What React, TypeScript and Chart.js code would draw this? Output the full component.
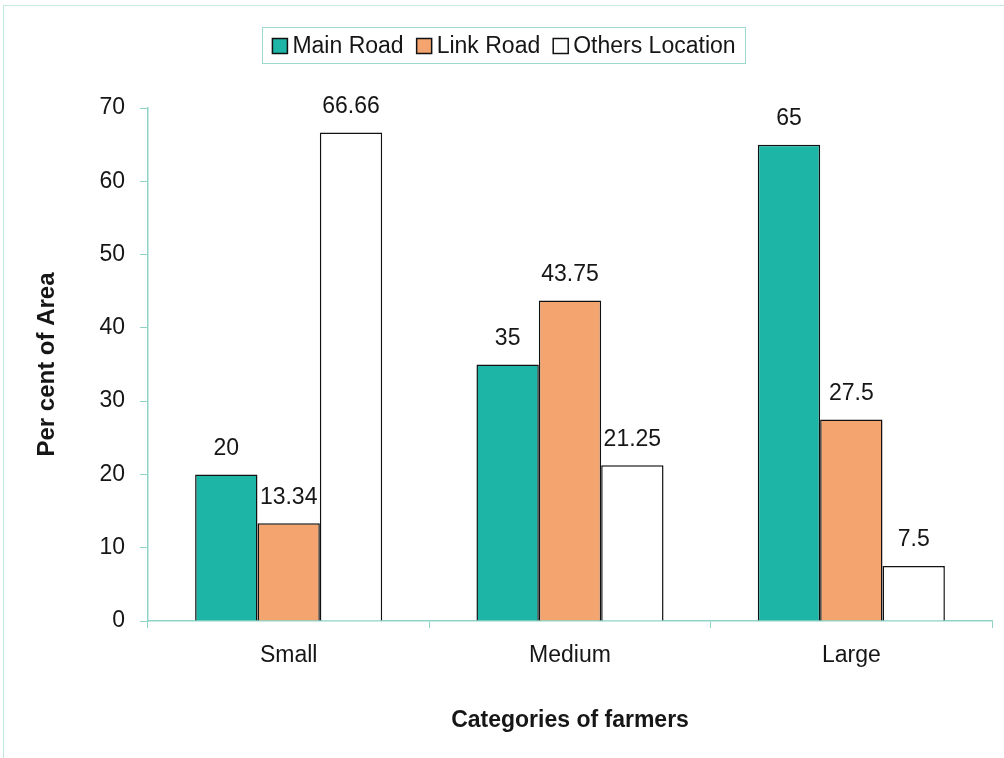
import React, { useEffect, useRef } from "react";
import { Chart, registerables } from "chart.js";

Chart.register(...registerables);

// Share of area by road location for each farmer category
const categories = ["Small", "Medium", "Large"];
const seriesNames = ["Main Road", "Link Road", "Others Location"];
const mainRoad = [20, 35, 65];
const linkRoad = [13.34, 43.75, 27.5];
const othersLocation = [66.66, 21.25, 7.5];
const yMin = 0;
const yMax = 70;
const yStep = 10;

const FONT = "'Liberation Sans', Arial, Helvetica, sans-serif";
const TEXT = "#161616";
const AXIS = "#8fd4c7";
const COLORS = ["#1db5a6", "#f3a46f", "#ffffff"];

const valueLabels = {
  id: "valueLabels",
  afterDatasetsDraw(chart: any) {
    const ctx = chart.ctx;
    ctx.save();
    ctx.font = `23px ${FONT}`;
    ctx.fillStyle = TEXT;
    ctx.textAlign = "center";
    ctx.textBaseline = "middle";
    chart.data.datasets.forEach((ds: any, i: number) => {
      const meta = chart.getDatasetMeta(i);
      meta.data.forEach((bar: any, j: number) => {
        ctx.fillText(String(ds.data[j]), bar.x, bar.y - 26);
      });
    });
    ctx.restore();
  },
};

const boxedLegend = {
  id: "boxedLegend",
  afterDraw(chart: any) {
    const ctx = chart.ctx;
    ctx.save();
    // faint outer frame
    ctx.strokeStyle = "#c4e9e1";
    ctx.lineWidth = 1;
    ctx.strokeRect(3.5, 5.5, 1200, 1200);

    ctx.font = `23px ${FONT}`;
    const sq = 15;
    const gapText = 5;
    const gapItem = 13;
    const widths = seriesNames.map((n) => ctx.measureText(n).width);
    const total =
      widths.reduce((a, b) => a + b, 0) + seriesNames.length * (sq + gapText) + gapItem * (seriesNames.length - 1);
    const cx = 504;
    const padX = 10;
    let x = cx - total / 2;
    const top = 27;
    const bottom = 63;
    ctx.strokeStyle = "#9fd9cd";
    ctx.lineWidth = 1;
    ctx.strokeRect(Math.round(x - padX) + 0.5, top + 0.5, Math.round(total + 2 * padX), bottom - top);

    const cy = 46;
    ctx.textAlign = "left";
    ctx.textBaseline = "middle";
    seriesNames.forEach((name, i) => {
      ctx.fillStyle = COLORS[i];
      ctx.fillRect(x, cy - sq / 2, sq, sq);
      ctx.strokeStyle = "#111";
      ctx.lineWidth = 1.5;
      ctx.strokeRect(x, cy - sq / 2, sq, sq);
      ctx.fillStyle = TEXT;
      ctx.fillText(name, x + sq + gapText, cy + 1);
      x += sq + gapText + widths[i] + gapItem;
    });
    ctx.restore();
  },
};

export default function App() {
  const ref = useRef<HTMLCanvasElement | null>(null);

  useEffect(() => {
    document.body.style.margin = "0";
    const canvas = ref.current;
    if (!canvas) return;
    const mk = (label: string, data: number[], i: number) => ({
      label,
      data,
      backgroundColor: COLORS[i],
      borderColor: "#111111",
      borderWidth: 1.5,
      categoryPercentage: 0.665,
      barPercentage: 1,
    });
    const chart = new Chart(canvas, {
      type: "bar",
      data: {
        labels: categories,
        datasets: [
          mk(seriesNames[0], mainRoad, 0),
          mk(seriesNames[1], linkRoad, 1),
          mk(seriesNames[2], othersLocation, 2),
        ],
      },
      options: {
        animation: false,
        responsive: false,
        maintainAspectRatio: false,
        layout: { padding: { top: 108, right: 12, bottom: 0, left: 0 } },
        plugins: {
          legend: { display: false },
          tooltip: { enabled: false },
          title: { display: false },
        },
        scales: {
          x: {
            grid: {
              display: true,
              drawOnChartArea: false,
              drawTicks: true,
              tickLength: 7,
              color: AXIS,
              offset: true,
            },
            border: { display: true, color: AXIS, width: 1.5 },
            ticks: {
              color: TEXT,
              font: { family: FONT, size: 23 },
              padding: 14,
            },
            title: {
              display: true,
              text: "Categories of farmers",
              color: TEXT,
              font: { family: FONT, size: 23, weight: "bold" },
              padding: { top: 0, bottom: 24 },
            },
            afterFit: (s: any) => {
              s.height = 137;
            },
          },
          y: {
            min: yMin,
            max: yMax,
            grid: {
              display: true,
              drawOnChartArea: false,
              drawTicks: true,
              tickLength: 8,
              color: AXIS,
            },
            border: { display: true, color: AXIS, width: 1.5 },
            ticks: {
              stepSize: yStep,
              color: TEXT,
              font: { family: FONT, size: 23 },
              padding: 15,
            },
            title: {
              display: true,
              text: "Per cent of Area",
              color: TEXT,
              font: { family: FONT, size: 24, weight: "bold" },
              padding: { top: 33, bottom: 0 },
            },
            afterFit: (s: any) => {
              s.width = 148;
            },
          },
        },
      },
      plugins: [valueLabels, boxedLegend],
    });
    return () => chart.destroy();
  }, []);

  return (
    <div style={{ width: 1004, height: 758, background: "#fff" }}>
      <canvas ref={ref} width={1004} height={758} style={{ display: "block" }} />
    </div>
  );
}
